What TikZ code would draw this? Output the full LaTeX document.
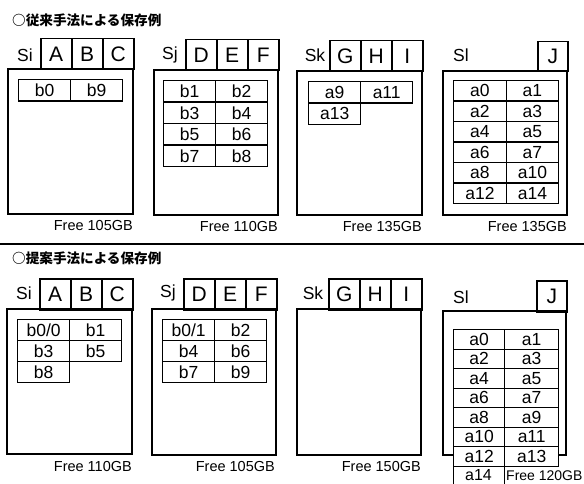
\documentclass[tikz,border=0pt]{standalone}
\usepackage{fontspec}
\setmainfont{Liberation Sans}
\newfontfamily\cjk{Noto Sans CJK JP}
\begin{document}
\begin{tikzpicture}[x=1pt,y=-1pt,
  frame/.style={draw,line width=1.5pt},
  tab/.style={draw,line width=1.5pt,anchor=north west,inner sep=0pt,minimum width=31pt,minimum height=31pt,font=\fontsize{21}{21}\selectfont},
  cellbox/.style={draw,line width=1.4pt,anchor=north west,inner sep=0pt,minimum width=52pt,minimum height=21.5pt,font=\fontsize{17.5}{17.5}\selectfont},
  lcell/.style={cellbox,minimum width=51pt,minimum height=19.5pt},
  rcell/.style={cellbox,minimum width=54pt,minimum height=19.5pt},
  tcell/.style={cellbox,minimum width=52.5pt,minimum height=20.5pt},
  lbl/.style={font=\fontsize{17.5}{17.5}\selectfont,inner sep=0pt},
  free/.style={font=\fontsize{14.5}{14.5}\selectfont,inner sep=0pt,anchor=east},
  head/.style={font=\cjk\bfseries\fontsize{13.6}{13.6}\selectfont,anchor=west,inner sep=0pt}]
\clip (0,0) rectangle (584,484);
\fill[white] (0,0) rectangle (584,484);

% ---------- top section ----------
\node[head] (h1) at (12,20) {○従来手法による保存例};

% Si
\node[lbl] (tSi) at (25,55) {Si};
\node[tab] (tA) at (40,38) {A};
\node[tab] (tB) at (71,38) {B};
\node[tab] (tC) at (102,38) {C};
\draw[frame] (8,69) rectangle (133,214);
\node[cellbox] (tb0) at (18,79) {b0};
\node[cellbox] (tb9) at (70,79) {b9};
\node[free] (tf1) at (133,226) {Free 105GB};

% Sj
\node[lbl] (tSj) at (170,55) {Sj};
\node[tab] (tD) at (185,39) {D};
\node[tab] (tE) at (216,39) {E};
\node[tab] (tF) at (247,39) {F};
\draw[frame] (154,70) rectangle (278,215);
\node[cellbox] (tb1) at (163,80) {b1};
\node[cellbox] (tb2) at (215,80) {b2};
\node[cellbox] (tb3) at (163,101.5) {b3};
\node[cellbox] (tb4) at (215,101.5) {b4};
\node[cellbox] (tb5) at (163,123) {b5};
\node[cellbox] (tb6) at (215,123) {b6};
\node[cellbox] (tb7) at (163,144.5) {b7};
\node[cellbox] (tb8) at (215,144.5) {b8};
\node[free] (tf2) at (278,227) {Free 110GB};

% Sk
\node[lbl] (tSk) at (315,55) {Sk};
\node[tab] (tG) at (329,40) {G};
\node[tab] (tH) at (360,40) {H};
\node[tab] (tI) at (391,40) {I};
\draw[frame] (297,71) rectangle (422,215);
\node[cellbox] (ta9) at (308,81) {a9};
\node[cellbox] (ta11) at (360,81) {a11};
\node[cellbox] (ta13) at (308,102.5) {a13};
\node[free] (tf3) at (422,227) {Free 135GB};

% Sl
\node[lbl] (tSl) at (461,55) {Sl};
\node[tab,minimum width=30pt,minimum height=30pt] (tJ) at (537,41) {J};
\draw[frame] (443,71) rectangle (567,215);
\node[tcell] (ta0) at (453,80) {a0};
\node[tcell] (ta1) at (505.5,80) {a1};
\node[tcell] (ta2) at (453,100.5) {a2};
\node[tcell] (ta3) at (505.5,100.5) {a3};
\node[tcell] (ta4) at (453,121) {a4};
\node[tcell] (ta5) at (505.5,121) {a5};
\node[tcell] (ta6) at (453,141.5) {a6};
\node[tcell] (ta7) at (505.5,141.5) {a7};
\node[tcell] (ta8) at (453,162) {a8};
\node[tcell] (ta10) at (505.5,162) {a10};
\node[tcell] (ta12) at (453,182.5) {a12};
\node[tcell] (ta14) at (505.5,182.5) {a14};
\node[free] (tf4) at (567,227) {Free 135GB};

% separator
\draw[line width=1.8pt] (0,244) -- (584,244);

% ---------- bottom section ----------
\node[head] (h2) at (12,258) {○提案手法による保存例};

% Si
\node[lbl] (bSi) at (24,293) {Si};
\node[tab] (bA) at (39,278) {A};
\node[tab] (bB) at (70,278) {B};
\node[tab] (bC) at (101,278) {C};
\draw[frame] (7,309) rectangle (132,454);
\node[cellbox,minimum height=21pt] (bb00) at (17,319) {b0/0};
\node[cellbox,minimum height=21pt] (bb1) at (69,319) {b1};
\node[cellbox,minimum height=21pt] (bb3) at (17,340) {b3};
\node[cellbox,minimum height=21pt] (bb5) at (69,340) {b5};
\node[cellbox,minimum height=21pt] (bb8) at (17,361) {b8};
\node[free] (bf1) at (132,467) {Free 110GB};

% Sj
\node[lbl] (bSj) at (168,293) {Sj};
\node[tab] (bD) at (183,278) {D};
\node[tab] (bE) at (214,278) {E};
\node[tab] (bF) at (245,278) {F};
\draw[frame] (152,309) rectangle (276,455);
\node[cellbox,minimum height=21pt] (bb01) at (162,319) {b0/1};
\node[cellbox,minimum height=21pt] (bb2) at (214,319) {b2};
\node[cellbox,minimum height=21pt] (bb4) at (162,340) {b4};
\node[cellbox,minimum height=21pt] (bb6) at (214,340) {b6};
\node[cellbox,minimum height=21pt] (bb7) at (162,361) {b7};
\node[cellbox,minimum height=21pt] (bb9) at (214,361) {b9};
\node[free] (bf2) at (275,467) {Free 105GB};

% Sk
\node[lbl] (bSk) at (313,293) {Sk};
\node[tab] (bG) at (328,278) {G};
\node[tab] (bH) at (359,278) {H};
\node[tab] (bI) at (390,278) {I};
\draw[frame] (297,309) rectangle (421,455);
\node[free] (bf3) at (421,467) {Free 150GB};

% Sl
\node[lbl] (bSl) at (461,297) {Sl};
\node[tab,minimum width=30pt,minimum height=31pt] (bJ) at (536,280) {J};
\draw[frame] (453,455) -- (443,455) -- (443,311) -- (566,311) -- (566,455) -- (558,455);
\node[lcell] (ba0) at (453,329) {a0};
\node[rcell] (ba1) at (504,329) {a1};
\node[lcell] (ba2) at (453,348.5) {a2};
\node[rcell] (ba3) at (504,348.5) {a3};
\node[lcell] (ba4) at (453,368) {a4};
\node[rcell] (ba5) at (504,368) {a5};
\node[lcell] (ba6) at (453,387.5) {a6};
\node[rcell] (ba7) at (504,387.5) {a7};
\node[lcell] (ba8) at (453,407) {a8};
\node[rcell] (ba9) at (504,407) {a9};
\node[lcell] (ba10) at (453,426.5) {a10};
\node[rcell] (ba11) at (504,426.5) {a11};
\node[lcell] (ba12) at (453,446) {a12};
\node[rcell] (ba13) at (504,446) {a13};
\node[lcell,minimum height=30pt] (ba14) at (453,465.5) {};
\node[font=\fontsize{16}{16}\selectfont,inner sep=0pt] (ba14t) at (478.5,475.5) {a14};
\node[font=\fontsize{14}{14}\selectfont,inner sep=0pt,anchor=west] (bf4) at (506,475.5) {Free 120GB};
\end{tikzpicture}
\end{document}
